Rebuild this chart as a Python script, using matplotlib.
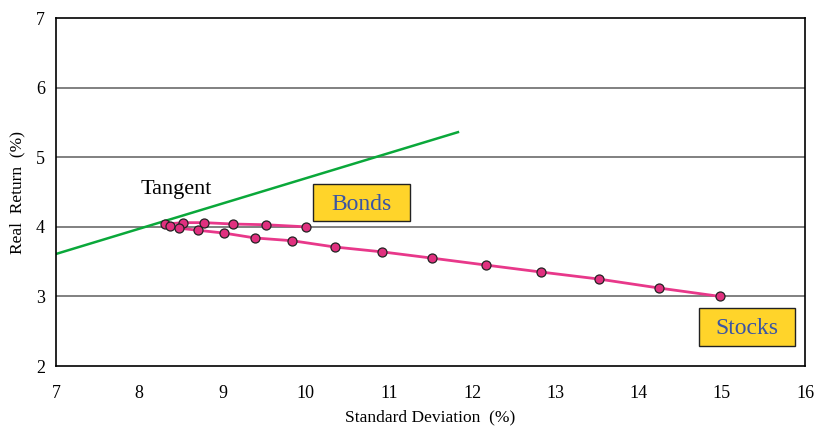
import matplotlib.pyplot as plt
from matplotlib.patches import Rectangle

# portfolio frontier, from 100% bonds to 100% stocks
std_dev = [10.00, 9.52, 9.13, 8.78, 8.53, 8.31, 8.37, 8.48, 8.71, 9.02, 9.39, 9.84,
           10.35, 10.92, 11.52, 12.17, 12.83, 13.52, 14.25, 14.98]
real_ret = [4.00, 4.03, 4.04, 4.06, 4.06, 4.04, 4.01, 3.98, 3.95, 3.91, 3.84, 3.80,
            3.71, 3.64, 3.55, 3.45, 3.35, 3.25, 3.12, 3.00]

tangent_x = [7.0, 11.83]
tangent_y = [3.61, 5.36]

plt.rcParams['font.family'] = ['Liberation Serif', 'DejaVu Serif']

fig = plt.figure(figsize=(8.15, 4.26), dpi=100)
ax = fig.add_axes([0.0687, 0.1408, 0.919, 0.8169])

for y in [3, 4, 5, 6]:
    ax.axhline(y, color='#808080', lw=1.4, zorder=0)

ax.plot(tangent_x, tangent_y, color='#0aa83a', lw=1.8, zorder=2)
ax.plot(std_dev, real_ret, color='#e8388a', lw=2, marker='o', ms=6.5,
        mfc='#e0307f', mec='#222222', mew=0.9, zorder=3)

ax.text(8.44, 4.53, 'Tangent', fontsize=16, ha='center', va='center')

for (x0, x1, y0, y1, label) in [(10.09, 11.25, 4.08, 4.615, 'Bonds'),
                                (14.73, 15.88, 2.29, 2.833, 'Stocks')]:
    ax.add_patch(Rectangle((x0, y0), x1 - x0, y1 - y0, facecolor='#ffd42a',
                           edgecolor='#222222', lw=1, zorder=4))
    ax.text((x0 + x1) / 2, (y0 + y1) / 2 - 0.02, label, fontsize=17, color='#3a55a4',
            ha='center', va='center', zorder=5)

ax.set_xlim(7, 16)
ax.set_ylim(2, 7)
ax.set_xticks(range(7, 17))
ax.set_yticks(range(2, 8))
ax.tick_params(length=0, labelsize=13)
ax.tick_params(axis='x', pad=14)
ax.tick_params(axis='y', pad=8)
for s in ax.spines.values():
    s.set_linewidth(1.2)

ax.set_xlabel('Standard Deviation  (%)', fontsize=12.5, va='center')
ax.set_ylabel('Real  Return  (%)', fontsize=12.5, va='center')
ax.xaxis.set_label_coords(0.5, -0.147)
ax.yaxis.set_label_coords(-0.051, 0.5)

fig.savefig('out.png', dpi=100)
